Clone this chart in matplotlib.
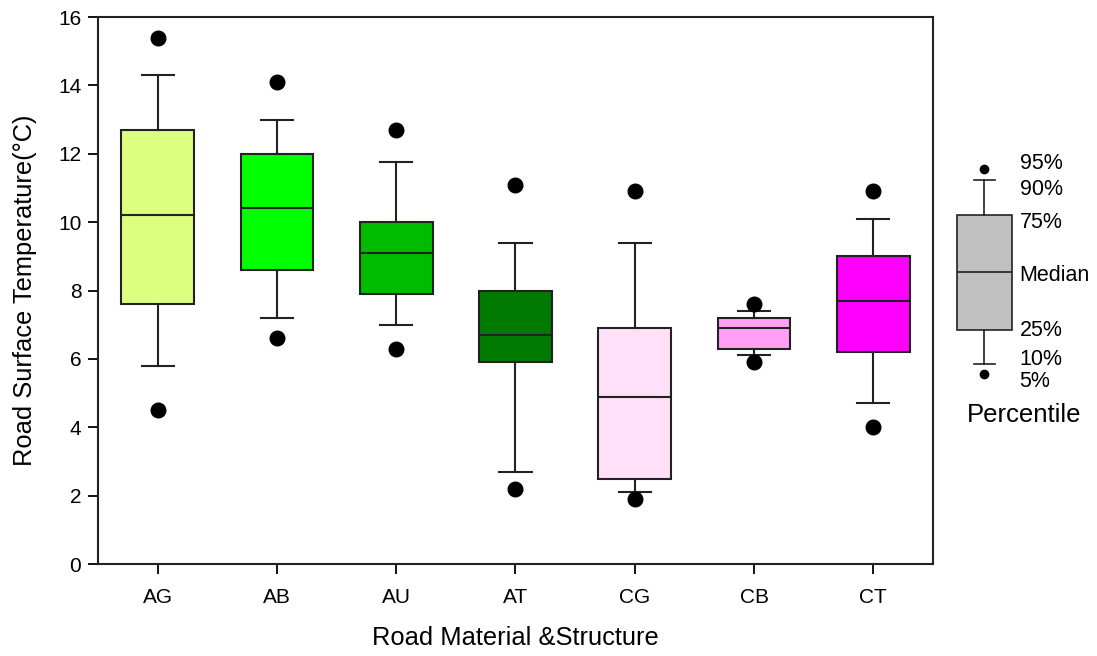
import matplotlib
matplotlib.use('Agg')
import matplotlib.pyplot as plt

plt.rcParams['font.family'] = ['Liberation Sans', 'DejaVu Sans']

# Boks-statistikk lest av figuren
categories = ['AG', 'AB', 'AU', 'AT', 'CG', 'CB', 'CT']
p10 = [5.8, 7.2, 7.0, 2.7, 2.1, 6.1, 4.7]
q1 = [7.6, 8.6, 7.9, 5.9, 2.5, 6.3, 6.2]
median = [10.2, 10.4, 9.1, 6.7, 4.9, 6.9, 7.7]
q3 = [12.7, 12.0, 10.0, 8.0, 6.9, 7.2, 9.0]
p90 = [14.3, 13.0, 11.75, 9.4, 9.4, 7.4, 10.1]
p5 = [4.5, 6.6, 6.3, 2.2, 1.9, 5.9, 4.0]
p95 = [15.4, 14.1, 12.7, 11.1, 10.9, 7.6, 10.9]
colors = ['#DDFF80', '#00FF00', '#00BB00', '#007A00', '#FFE0F8', '#FFA0F5', '#FF00FF']

# Forklaringsboks (skjematisk)
leg_stats = {'p5': 5.55, 'p10': 5.86, 'q1': 6.85, 'med': 8.54, 'q3': 10.2, 'p90': 11.22, 'p95': 11.56}
leg_labels = ['5%', '10%', '25%', 'Median', '75%', '90%', '95%']
leg_label_y = [5.34, 5.99, 6.84, 8.45, 10.0, 10.97, 11.72]

fig = plt.figure(figsize=(10.97, 6.56), dpi=100)
ax = fig.add_axes([0.0893, 0.1402, 0.7612, 0.8338])

stats = []
for i, c in enumerate(categories):
    stats.append({'label': c, 'whislo': p10[i], 'q1': q1[i], 'med': median[i],
                  'q3': q3[i], 'whishi': p90[i], 'fliers': [p5[i], p95[i]]})

edge = '#222222'
bp = ax.bxp(stats, positions=range(len(categories)), widths=0.61, patch_artist=True,
            showfliers=True,
            boxprops=dict(edgecolor=edge, linewidth=1.5),
            medianprops=dict(color=edge, linewidth=1.5),
            whiskerprops=dict(color=edge, linewidth=1.5),
            capprops=dict(color=edge, linewidth=1.5),
            capwidths=0.27,
            flierprops=dict(marker='o', markerfacecolor='black', markeredgecolor='black',
                            markersize=10.5))
for patch, col in zip(bp['boxes'], colors):
    patch.set_facecolor(col)

ax.set_xlim(-0.5, 6.5)
ax.set_ylim(0, 16)
ax.set_yticks(range(0, 17, 2))
ax.set_xticks(range(len(categories)))
ax.set_xticklabels(categories)
ax.tick_params(direction='out', length=7, width=1.3, labelsize=15, pad=5)
ax.tick_params(axis='x', pad=10)
for s in ax.spines.values():
    s.set_linewidth(1.5)
    s.set_color('#222222')
ax.set_xlabel('Road Material &Structure', fontsize=18.4, labelpad=14)
ax.set_ylabel('Road Surface Temperature(°C)', fontsize=18.4, labelpad=15)

# Forklaringsakse til høgre, same y-skala som hovudaksen
lax = fig.add_axes([0.8505, 0.1402, 0.149, 0.8338], sharey=ax)
lax.set_xlim(0, 1)
lax.axis('off')
lb = lax.bxp([{'whislo': leg_stats['p10'], 'q1': leg_stats['q1'], 'med': leg_stats['med'],
               'q3': leg_stats['q3'], 'whishi': leg_stats['p90'],
               'fliers': [leg_stats['p5'], leg_stats['p95']]}],
             positions=[0.315], widths=0.335, patch_artist=True,
             boxprops=dict(edgecolor=edge, linewidth=1.2),
             medianprops=dict(color=edge, linewidth=1.2),
             whiskerprops=dict(color=edge, linewidth=1.2),
             capprops=dict(color=edge, linewidth=1.2),
             capwidths=0.13,
             flierprops=dict(marker='o', markerfacecolor='black', markeredgecolor='black',
                             markersize=6))
lb['boxes'][0].set_facecolor('#C0C0C0')
for lab, yy in zip(leg_labels, leg_label_y):
    lax.text(0.53, yy, lab, fontsize=15.5, va='center', ha='left')
lax.text(0.555, 4.35, 'Percentile', fontsize=18.5, va='center', ha='center')

fig.savefig('out.png', dpi=100)
